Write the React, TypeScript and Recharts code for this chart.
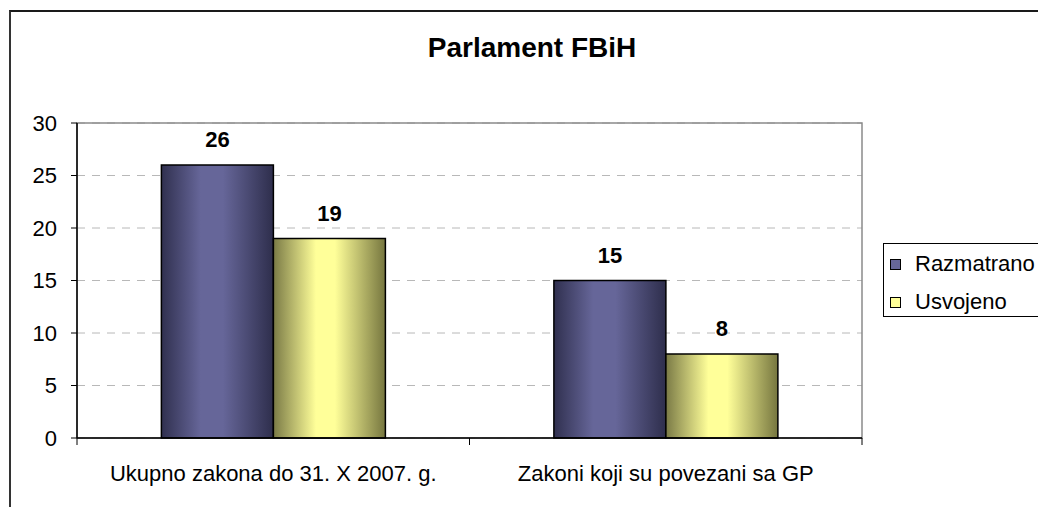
import { Bar, BarChart, CartesianGrid, LabelList, Legend, ReferenceArea, XAxis, YAxis } from 'recharts'

const categories = ['Ukupno zakona do 31. X 2007. g.', 'Zakoni koji su povezani sa GP']
const razmatrano = [26, 15]
const usvojeno = [19, 8]
const yTicks = [0, 5, 10, 15, 20, 25, 30]

const SERIES = [
  { key: 'razmatrano', name: 'Razmatrano', swatch: '#666699', grad: 'gradBlue' },
  { key: 'usvojeno', name: 'Usvojeno', swatch: '#FFFF99', grad: 'gradYellow' },
]

const FONT = '"Liberation Sans", Arial, sans-serif'

const chartData = categories.map((name, i) => ({
  name,
  razmatrano: razmatrano[i],
  usvojeno: usvojeno[i],
}))

// category label plus excel-style tick marks on the band edges
function CategoryTick(props: any) {
  const { x = 0, y = 0, payload, index = 0, visibleTicksCount = 1 } = props
  const half = payload?.offset ?? 0
  const isLast = index === visibleTicksCount - 1
  return (
    <g>
      <line x1={x - half} x2={x - half} y1={y} y2={y + 7} stroke="#000" />
      {isLast && <line x1={x + half} x2={x + half} y1={y} y2={y + 7} stroke="#000" />}
      <text x={x} y={y + 43} textAnchor="middle" fontFamily={FONT} fontSize={22} fill="#000">
        {payload?.value}
      </text>
    </g>
  )
}

// legend drawn as a boxed list like the Excel original
function LegendBox() {
  return (
    <div
      style={{
        border: '1px solid #000',
        background: '#fff',
        height: 74,
        boxSizing: 'border-box',
        fontFamily: FONT,
        fontSize: 22,
        color: '#000',
      }}
    >
      {SERIES.map((s, i) => (
        <div
          key={s.key}
          style={{
            position: 'absolute',
            left: 7,
            top: i === 0 ? 9 : 47,
            height: 24,
            display: 'flex',
            alignItems: 'center',
            whiteSpace: 'nowrap',
          }}
        >
          <span
            style={{
              display: 'inline-block',
              width: 11,
              height: 11,
              boxSizing: 'border-box',
              border: '1px solid #000',
              background: s.swatch,
              marginRight: 14,
            }}
          />
          <span style={{ lineHeight: '24px' }}>{s.name}</span>
        </div>
      ))}
    </div>
  )
}

export default function App() {
  return (
    <div
      style={{
        position: 'absolute',
        left: 0,
        top: 0,
        width: 1038,
        height: 507,
        overflow: 'hidden',
        background: '#fff',
      }}
    >
      <div
        style={{
          position: 'absolute',
          left: 9,
          top: 10,
          width: 1200,
          height: 700,
          borderLeft: '2px solid #333',
          borderTop: '2px solid #1a1a1a',
        }}
      />
      <svg width={1038} height={80} style={{ position: 'absolute', left: 0, top: 0 }}>
        <text
          x={532}
          y={57}
          textAnchor="middle"
          fontFamily={FONT}
          fontSize={28}
          fontWeight="bold"
          fill="#000"
        >
          Parlament FBiH
        </text>
      </svg>
      <div style={{ position: 'absolute', left: 0, top: 0 }}>
        <BarChart
          width={1038}
          height={507}
          data={chartData}
          margin={{ top: 123, right: 176, bottom: 29, left: 17 }}
          barCategoryGap="21.5%"
          barGap={0}
        >
          <defs>
            <linearGradient id="gradBlue" x1="0" y1="0" x2="1" y2="0">
              <stop offset="0%" stopColor="#30304f" />
              <stop offset="35%" stopColor="#666699" />
              <stop offset="55%" stopColor="#666699" />
              <stop offset="100%" stopColor="#2e2e4c" />
            </linearGradient>
            <linearGradient id="gradYellow" x1="0" y1="0" x2="1" y2="0">
              <stop offset="0%" stopColor="#7a7a46" />
              <stop offset="38%" stopColor="#ffff99" />
              <stop offset="55%" stopColor="#ffff99" />
              <stop offset="100%" stopColor="#76763f" />
            </linearGradient>
          </defs>
          <CartesianGrid vertical={false} stroke="#b8b8b8" strokeDasharray="8 7" />
          <ReferenceArea y1={0} y2={30} fill="none" stroke="#8a8a8a" strokeWidth={1.5} />
          <XAxis
            dataKey="name"
            height={40}
            axisLine={{ stroke: '#000', strokeWidth: 1.5 }}
            tickLine={false}
            tickSize={0}
            tickMargin={0}
            interval={0}
            tick={<CategoryTick />}
          />
          <YAxis
            width={60}
            domain={[0, 30]}
            ticks={yTicks}
            axisLine={{ stroke: '#000', strokeWidth: 1.5 }}
            tickLine={{ stroke: '#000' }}
            tickSize={6}
            tickMargin={14}
            tick={{ fill: '#000', fontSize: 22, fontFamily: FONT }}
          />
          <Legend
            layout="vertical"
            align="center"
            verticalAlign="middle"
            wrapperStyle={{ left: 883, top: 243, width: 175, height: 75 }}
            content={() => <LegendBox />}
          />
          {SERIES.map((s) => (
            <Bar
              key={s.key}
              dataKey={s.key}
              name={s.name}
              fill={`url(#${s.grad})`}
              stroke="#000"
              strokeWidth={1.5}
              isAnimationActive={false}
            >
              <LabelList
                dataKey={s.key}
                position="top"
                offset={18}
                fill="#000"
                fontSize={22}
                fontWeight="bold"
                fontFamily={FONT}
              />
            </Bar>
          ))}
        </BarChart>
      </div>
    </div>
  )
}
